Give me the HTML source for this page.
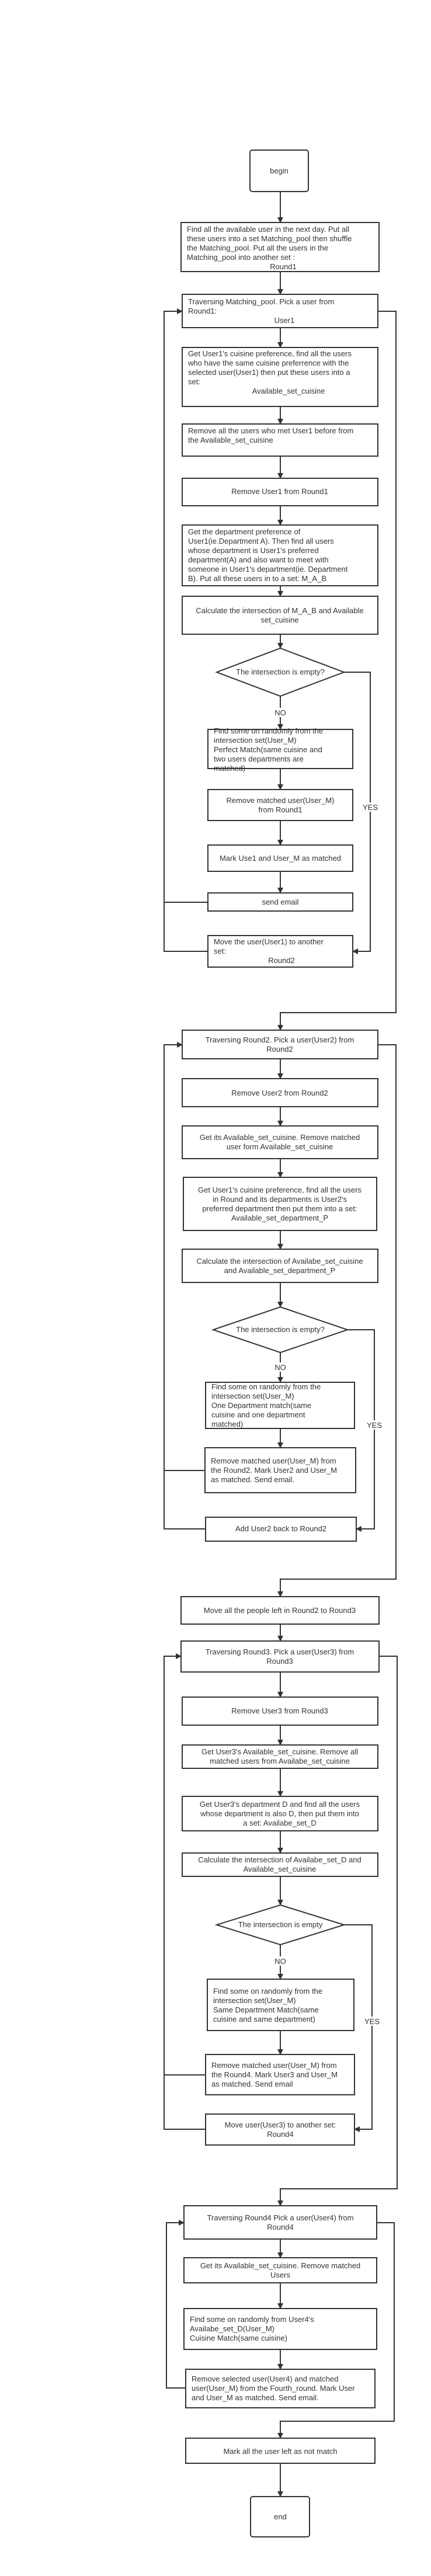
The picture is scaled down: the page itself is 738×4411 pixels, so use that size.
<!DOCTYPE html>
<html><head><meta charset="utf-8"><style>
html,body{margin:0;padding:0;background:#fff;}
svg{display:block;}
text{font-family:"Liberation Sans",sans-serif;font-size:13px;fill:#333;}
.c{text-anchor:middle;}
</style></head><body>
<svg width="738" height="4411" viewBox="0 0 738 4411" xmlns="http://www.w3.org/2000/svg">
<defs><marker id="a" markerWidth="10" markerHeight="10" refX="9" refY="5" orient="auto" markerUnits="userSpaceOnUse"><path d="M0,0 L10,5 L0,10 z" fill="#333"/></marker></defs>
<g fill="none" stroke="#333" stroke-width="2">
<rect x="428" y="257" width="100" height="71" rx="4"/>
<rect x="310" y="381" width="339" height="84"/>
<rect x="312" y="504" width="335" height="57"/>
<rect x="312" y="595" width="335" height="101"/>
<rect x="312" y="726" width="335" height="55"/>
<rect x="312" y="819" width="335" height="47"/>
<rect x="312" y="899" width="335" height="104"/>
<rect x="312" y="1021" width="335" height="65"/>
<polygon points="480,1110 589,1151 480,1192 371,1151"/>
<rect x="356" y="1249" width="248" height="67"/>
<rect x="356" y="1352" width="248" height="53"/>
<rect x="356" y="1447" width="248" height="45"/>
<rect x="356" y="1529" width="248" height="31"/>
<rect x="356" y="1602" width="248" height="54"/>
<rect x="312" y="1764" width="335" height="49"/>
<rect x="312" y="1847" width="335" height="48"/>
<rect x="312" y="1928" width="335" height="56"/>
<rect x="314" y="2016" width="331" height="91"/>
<rect x="312" y="2139" width="335" height="57"/>
<polygon points="480,2238 595,2277 480,2316 365,2277"/>
<rect x="352" y="2367" width="255" height="79"/>
<rect x="351" y="2479" width="258" height="77"/>
<rect x="352" y="2598" width="258" height="41"/>
<rect x="310" y="2734" width="339" height="47"/>
<rect x="310" y="2810" width="339" height="53"/>
<rect x="312" y="2906" width="335" height="48"/>
<rect x="312" y="2988" width="335" height="40"/>
<rect x="312" y="3076" width="335" height="59"/>
<rect x="312" y="3173" width="335" height="40"/>
<polygon points="480,3262 589,3296 480,3330 371,3296"/>
<rect x="355" y="3389" width="251" height="88"/>
<rect x="352" y="3518" width="255" height="69"/>
<rect x="352" y="3620" width="255" height="53"/>
<rect x="315" y="3777" width="330" height="57"/>
<rect x="315" y="3866" width="330" height="43"/>
<rect x="315" y="3953" width="330" height="70"/>
<rect x="318" y="4057" width="324" height="66"/>
<rect x="318" y="4175" width="324" height="43"/>
<rect x="429" y="4275" width="101" height="69" rx="4"/>
</g>
<g fill="none" stroke="#333" stroke-width="2" marker-end="url(#a)">
<path d="M480,328V381"/><path d="M480,465V504"/><path d="M480,561V595"/><path d="M480,696V726"/>
<path d="M480,781V819"/><path d="M480,866V899"/><path d="M480,1003V1021"/><path d="M480,1086V1110"/>
<path d="M480,1192V1249"/><path d="M480,1316V1352"/><path d="M480,1405V1447"/><path d="M480,1492V1529"/>
<path d="M356,1545H281M356,1629H281V533H312"/>
<path d="M647,533H678V1734H480V1764"/>
<path d="M589,1151H634V1629H604"/>
<path d="M480,1813V1847"/><path d="M480,1895V1928"/><path d="M480,1984V2016"/><path d="M480,2107V2139"/>
<path d="M480,2196V2238"/><path d="M480,2316V2367"/><path d="M480,2446V2479"/>
<path d="M351,2518H281M352,2618H281V1789H312"/>
<path d="M647,1789H678V2704H480V2734"/>
<path d="M595,2277H641V2618H610"/>
<path d="M480,2781V2810"/><path d="M480,2863V2906"/><path d="M480,2954V2988"/><path d="M480,3028V3076"/>
<path d="M480,3135V3173"/><path d="M480,3213V3262"/><path d="M480,3330V3389"/><path d="M480,3477V3518"/>
<path d="M352,3553H281M352,3646H281V2836H310"/>
<path d="M649,2836H680V3748H480V3777"/>
<path d="M589,3296H637V3646H607"/>
<path d="M480,3834V3866"/><path d="M480,3909V3953"/><path d="M480,4023V4057"/>
<path d="M318,4089H285V3806H315"/>
<path d="M645,3806H675V4146H480V4175"/>
<path d="M480,4218V4275"/>
</g>
<g fill="#fff"><rect x="466" y="1212" width="28" height="16"/><rect x="466" y="2333" width="28" height="16"/><rect x="466" y="3350" width="28" height="16"/>
<rect x="622" y="1374" width="26" height="16"/><rect x="629" y="2432" width="26" height="16"/><rect x="625" y="3453" width="26" height="16"/></g>
<text class="c" x="478" y="297">begin</text>
<text x="320" y="397">Find all the available user in the next day. Put all<tspan x="320" dy="16">these users into a set Matching_pool then shuffle</tspan><tspan x="320" dy="16">the Matching_pool. Put all the users in the</tspan><tspan x="320" dy="16">Matching_pool into another set :</tspan><tspan x="485" dy="16" class="c" text-anchor="middle">Round1</tspan></text>
<text x="322" y="521">Traversing Matching_pool. Pick a user from<tspan x="322" dy="16">Round1:</tspan></text>
<text class="c" x="487" y="553">User1</text>
<text x="322" y="610">Get User1's cuisine preference, find all the users<tspan x="322" dy="16">who have the same cuisine preferrence with the</tspan><tspan x="322" dy="16">selected user(User1) then put these users into a</tspan><tspan x="322" dy="16">set:</tspan></text>
<text class="c" x="494" y="674">Available_set_cuisine</text>
<text x="322" y="742">Remove all the users who met User1 before from<tspan x="322" dy="16">the Available_set_cuisine</tspan></text>
<text class="c" x="479" y="846">Remove User1 from Round1</text>
<text x="322" y="915">Get the department preference of<tspan x="322" dy="16">User1(ie.Department A). Then find all users</tspan><tspan x="322" dy="16">whose department is User1's preferred</tspan><tspan x="322" dy="16">department(A) and also want to meet with</tspan><tspan x="322" dy="16">someone in User1's department(ie. Department</tspan><tspan x="322" dy="16">B). Put all these users in to a set: M_A_B</tspan></text>
<text class="c" x="479" y="1050">Calculate the intersection of M_A_B and Available<tspan x="479" dy="16">set_cuisine</tspan></text>
<text class="c" x="480" y="1155">The intersection is empty?</text>
<text class="c" x="480" y="1225">NO</text>
<text x="366" y="1256">Find some on randomly from the<tspan x="366" dy="16">intersection set(User_M)</tspan><tspan x="366" dy="16">Perfect Match(same cuisine and</tspan><tspan x="366" dy="16">two users departments are</tspan><tspan x="366" dy="16">matched)</tspan></text>
<text class="c" x="480" y="1375">Remove matched user(User_M)<tspan x="480" dy="16">from Round1</tspan></text>
<text class="c" x="480" y="1474">Mark Use1 and User_M as matched</text>
<text class="c" x="480" y="1549">send email</text>
<text class="c" x="634" y="1387">YES</text>
<text x="366" y="1617">Move the user(User1) to another<tspan x="366" dy="16">set:</tspan></text>
<text class="c" x="482" y="1649">Round2</text>
<text class="c" x="479" y="1785">Traversing Round2. Pick a user(User2) from<tspan x="479" dy="16">Round2</tspan></text>
<text class="c" x="479" y="1876">Remove User2 from Round2</text>
<text class="c" x="479" y="1952">Get its Available_set_cuisine. Remove matched<tspan x="479" dy="16">user form Available_set_cuisine</tspan></text>
<text class="c" x="479" y="2042">Get User1's cuisine preference, find all the users<tspan x="479" dy="16">in Round and its departments is User2's</tspan><tspan x="479" dy="16">preferred department then put them into a set:</tspan><tspan x="479" dy="16">Available_set_department_P</tspan></text>
<text class="c" x="479" y="2164">Calculate the intersection of Availabe_set_cuisine<tspan x="479" dy="16">and Available_set_department_P</tspan></text>
<text class="c" x="480" y="2281">The intersection is empty?</text>
<text class="c" x="480" y="2346">NO</text>
<text x="362" y="2379">Find some on randomly from the<tspan x="362" dy="16">intersection set(User_M)</tspan><tspan x="362" dy="16">One Department match(same</tspan><tspan x="362" dy="16">cuisine and one department</tspan><tspan x="362" dy="16">matched)</tspan></text>
<text class="c" x="641" y="2445">YES</text>
<text x="361" y="2506">Remove matched user(User_M) from<tspan x="361" dy="16">the Round2. Mark User2 and User_M</tspan><tspan x="361" dy="16">as matched. Send email.</tspan></text>
<text class="c" x="481" y="2622">Add User2 back to Round2</text>
<text class="c" x="479" y="2762">Move all the people left in Round2 to Round3</text>
<text class="c" x="479" y="2833">Traversing Round3. Pick a user(User3) from<tspan x="479" dy="16">Round3</tspan></text>
<text class="c" x="479" y="2934">Remove User3 from Round3</text>
<text class="c" x="479" y="3004">Get User3's Available_set_cuisine. Remove all<tspan x="479" dy="16">matched users from Availabe_set_cuisine</tspan></text>
<text class="c" x="479" y="3094">Get User3's department D and find all the users<tspan x="479" dy="16">whose department is also D, then put them into</tspan><tspan x="479" dy="16">a set: Availabe_set_D</tspan></text>
<text class="c" x="479" y="3189">Calculate the intersection of Availabe_set_D and<tspan x="479" dy="16">Available_set_cuisine</tspan></text>
<text class="c" x="480" y="3300">The intersection is empty</text>
<text class="c" x="480" y="3363">NO</text>
<text x="365" y="3414">Find some on randomly from the<tspan x="365" dy="16">intersection set(User_M)</tspan><tspan x="365" dy="16">Same Department Match(same</tspan><tspan x="365" dy="16">cuisine and same department)</tspan></text>
<text class="c" x="637" y="3466">YES</text>
<text x="362" y="3541">Remove matched user(User_M) from<tspan x="362" dy="16">the Round4. Mark User3 and User_M</tspan><tspan x="362" dy="16">as matched. Send email</tspan></text>
<text class="c" x="480" y="3643">Move user(User3) to another set:<tspan x="480" dy="16">Round4</tspan></text>
<text class="c" x="480" y="3802">Traversing Round4 Pick a user(User4) from<tspan x="480" dy="16">Round4</tspan></text>
<text class="c" x="480" y="3884">Get its Available_set_cuisine. Remove matched<tspan x="480" dy="16">Users</tspan></text>
<text x="325" y="3976">Find some on randomly from User4's<tspan x="325" dy="16">Availabe_set_D(User_M)</tspan><tspan x="325" dy="16">Cuisine Match(same cuisine)</tspan></text>
<text x="328" y="4078">Remove selected user(User4) and matched<tspan x="328" dy="16">user(User_M) from the Fourth_round. Mark User</tspan><tspan x="328" dy="16">and User_M as matched. Send email.</tspan></text>
<text class="c" x="480" y="4202">Mark all the user left as not match</text>
<text class="c" x="480" y="4314">end</text>
</svg>
</body></html>
